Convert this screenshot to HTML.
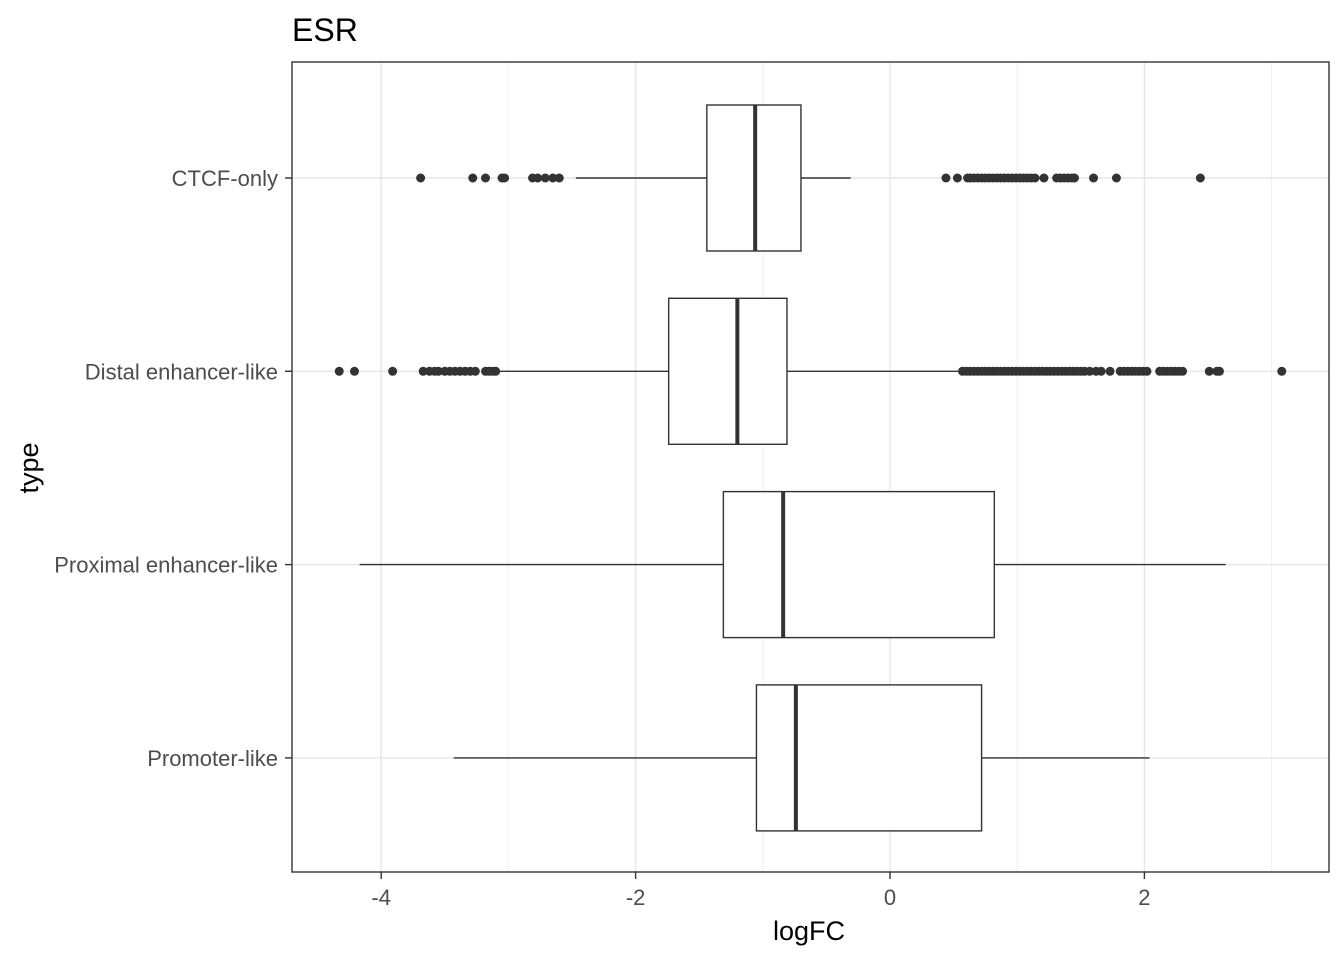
<!DOCTYPE html>
<html><head><meta charset="utf-8"><style>
body{margin:0;background:#fff;font-family:"Liberation Sans",sans-serif;}
svg text{font-family:"Liberation Sans",sans-serif;}
</style></head><body>
<svg id="chart" width="1344" height="960" xmlns="http://www.w3.org/2000/svg">
<text x="292" y="41" font-size="32" fill="#000">ESR</text>
<rect x="292" y="62" width="1037" height="810" fill="#fff"/>
<g id="grid"></g><g id="boxes"></g>
<rect x="292" y="62" width="1037" height="810" fill="none" stroke="#333" stroke-width="1.4"/>
<g id="axes"></g>
<text x="809" y="940" font-size="27" text-anchor="middle" fill="#000">logFC</text>
<text transform="translate(38,468) rotate(-90)" font-size="27" text-anchor="middle" fill="#000">type</text>
</svg>
<script>
const categories=["CTCF-only","Distal enhancer-like","Proximal enhancer-like","Promoter-like"];
const q1=[-1.44,-1.74,-1.31,-1.05];
const medians=[-1.06,-1.20,-0.84,-0.74];
const q3=[-0.70,-0.81,0.82,0.72];
const whiskLow=[-2.47,-3.09,-4.17,-3.43];
const whiskHigh=[-0.31,0.57,2.64,2.04];
const outliersCTCF=[-3.69,-3.28,-3.18,-3.05,-3.03,-2.81,-2.77,-2.71,-2.65,-2.60,0.44,0.53,0.61,0.63,0.66,0.69,0.72,0.75,0.78,0.81,0.84,0.87,0.90,0.93,0.96,0.99,1.02,1.05,1.08,1.11,1.14,1.21,1.31,1.34,1.37,1.40,1.43,1.45,1.60,1.78,2.44];
const outliersDistal=[-4.33,-4.21,-3.91,-3.67,-3.62,-3.58,-3.55,-3.50,-3.46,-3.42,-3.38,-3.34,-3.30,-3.26,-3.18,-3.15,-3.12,-3.10,0.57,0.60,0.63,0.66,0.69,0.72,0.75,0.78,0.81,0.84,0.87,0.90,0.93,0.96,0.99,1.02,1.05,1.08,1.11,1.14,1.17,1.20,1.23,1.26,1.29,1.32,1.35,1.38,1.41,1.44,1.47,1.50,1.53,1.57,1.62,1.66,1.73,1.81,1.84,1.87,1.90,1.93,1.96,1.99,2.02,2.12,2.15,2.18,2.21,2.24,2.27,2.30,2.51,2.57,2.59,3.08];
const outliers=[outliersCTCF,outliersDistal,[],[]];
const xTicks=[-4,-2,0,2];
const xMinor=[-3,-1,1,3];
const NS="http://www.w3.org/2000/svg";
const X=v=>890+v*127.2;
const Y=i=>178+i*193.3;
function mk(p,tag,a){const e=document.createElementNS(NS,tag);for(const k in a)e.setAttribute(k,a[k]);p.appendChild(e);return e;}
const grid=document.getElementById('grid'),boxes=document.getElementById('boxes'),axes=document.getElementById('axes');
xMinor.forEach(v=>{const l=mk(grid,'line',{x1:X(v),x2:X(v),y1:62,y2:872,stroke:'#f0f0f0','stroke-width':1});

});
xTicks.forEach(v=>{const l=mk(grid,'line',{x1:X(v),x2:X(v),y1:62,y2:872,stroke:'#e6e6e6','stroke-width':1.4});


const t=mk(axes,'line',{x1:X(v),x2:X(v),y1:872,y2:879,stroke:'#333','stroke-width':1.4});


const tx=mk(axes,'text',{x:X(v),y:905,'font-size':22,'text-anchor':'middle',fill:'#4d4d4d'});tx.textContent=v;

});
categories.forEach((c,i)=>{const y=Y(i),h=73;
const g=mk(grid,'line',{x1:292,x2:1329,y1:y,y2:y,stroke:'#e6e6e6','stroke-width':1.4});


const t=mk(axes,'line',{x1:285,x2:292,y1:y,y2:y,stroke:'#333','stroke-width':1.4});


const tx=mk(axes,'text',{x:278,y:y+8,'font-size':22,'text-anchor':'end',fill:'#4d4d4d'});tx.textContent=c;


const w1=mk(boxes,'line',{x1:X(whiskLow[i]),x2:X(q1[i]),y1:y,y2:y,stroke:'#333','stroke-width':1.4});


const w2=mk(boxes,'line',{x1:X(q3[i]),x2:X(whiskHigh[i]),y1:y,y2:y,stroke:'#333','stroke-width':1.4});


const b=mk(boxes,'rect',{x:X(q1[i]),y:y-h,width:X(q3[i])-X(q1[i]),height:2*h,fill:'#fff',stroke:'#333','stroke-width':1.4});


const m=mk(boxes,'line',{x1:X(medians[i]),x2:X(medians[i]),y1:y-h,y2:y+h,stroke:'#333','stroke-width':4});


outliers[i].forEach(v=>{const p=mk(boxes,'circle',{cx:X(v),cy:y,r:4.5,fill:'#333'});

});
});
</script>
</body></html>
